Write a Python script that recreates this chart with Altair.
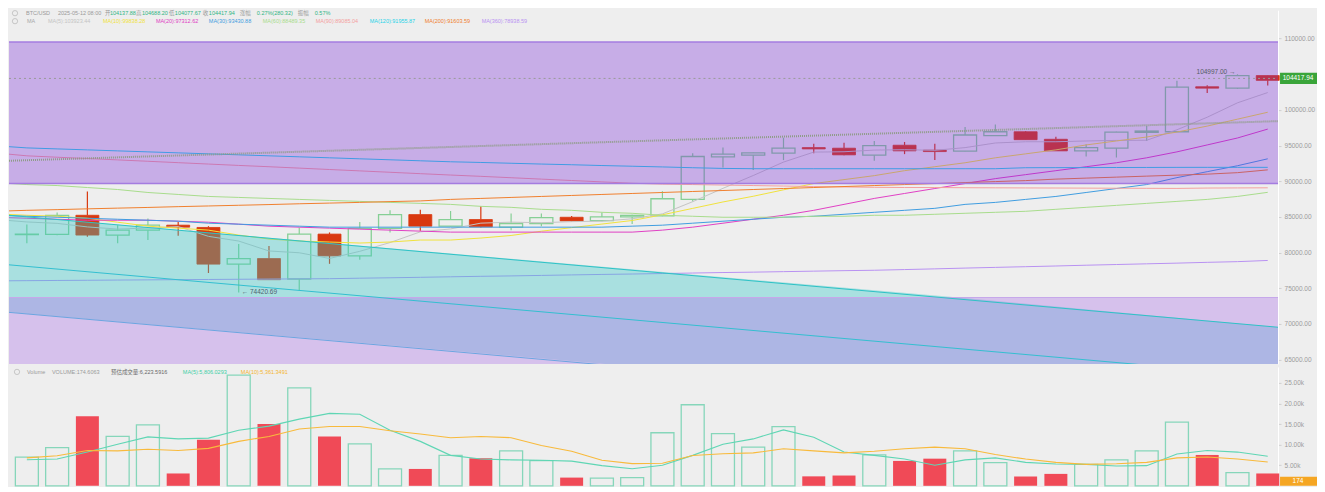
import altair as alt
import pandas as pd

# ---------------- data ----------------
idx = list(range(42))
opens = [82520, 82553, 85234, 82460, 83150, 83845, 83525, 78386, 79165, 76302,
         82595, 79540, 83386, 85331, 83706, 84637, 83567, 84081, 84956, 84498,
         85000, 85137, 87457, 93429, 93665, 93943, 94722, 94637, 93665, 95054,
         94360, 94221, 96388, 96943, 95888, 94263, 94637, 96860, 96943, 103250,
         103055, 104819]
highs = [83950, 85610, 88567, 83850, 84777, 84300, 83706, 81206, 80928, 83525,
         82830, 84300, 85928, 86026, 85832, 86485, 85470, 85470, 85137, 85610,
         85300, 88610, 93943, 94722, 94050, 96110, 95277, 95416, 95652, 95513,
         95277, 97596, 97971, 97050, 96249, 95194, 96950, 97735, 104083, 103450,
         104997, 104850]
lows = [81320, 82450, 82220, 81300, 81760, 82360, 77140, 74420.69, 76150, 74677,
        78428, 78983, 82830, 83054, 83650, 83525, 83150, 83706, 84400, 84400,
        84025, 85100, 87179, 91943, 91582, 92971, 93943, 93665, 92874, 93804,
        92971, 94180, 96350, 95800, 94230, 93471, 93332, 95652, 96900, 102360,
        102950, 103430]
closes = [82600, 85234, 82460, 83150, 83845, 83567, 78386, 79165, 76206, 82595,
          79540, 83386, 85331, 83706, 84637, 83609, 84081, 84915, 84443, 85000,
          85234, 87554, 93471, 93804, 93985, 94637, 94540, 93707, 95000, 94263,
          94165, 96485, 96943, 95832, 94263, 94721, 96902, 97040, 103194, 103055,
          104819, 104150]
volumes = [6950, 9300, 16900, 12000, 14800, 3000, 11200, 26900, 15000, 23800,
           12000, 10200, 4100, 4100, 7400, 6700, 8500, 6100, 2000, 1850,
           2000, 12900, 19700, 12700, 9400, 14400, 2300, 2500, 7500, 6050,
           6600, 8500, 5650, 2250, 2900, 5200, 6300, 8500, 15500, 7500,
           3200, 3000]
vol_ma5 = [6350, 6500, 8200, 10100, 11900, 11400, 11600, 13500, 14500, 16200,
           17600, 17400, 13500, 10800, 7400, 6500, 6300, 6200, 6000, 4900,
           4150, 5000, 7400, 10100, 11400, 13600, 11800, 8200, 7400, 6500,
           5000, 6300, 6800, 5700, 5300, 5200, 4800, 4900, 7750, 8600,
           8200, 7200]
vol_ma10 = [6800, 7300, 8600, 8500, 8900, 8600, 9100, 10800, 12000, 13800,
            14400, 14400, 13400, 12600, 11700, 12000, 11700, 9800, 8400, 6200,
            5400, 5500, 7350, 7800, 8000, 9000, 8500, 8000, 8400, 9000,
            9400, 9000, 7600, 6500, 5700, 5200, 5350, 5700, 6800, 7000,
            6500, 5800]

ma5 = [84300, 84100, 83600, 83300, 83450, 83650, 82280, 81620, 80230, 79980,
       79180, 80180, 81410, 82910, 83320, 84130, 84270, 84190, 84340, 84410,
       84740, 85430, 87140, 89010, 90810, 92690, 94090, 94140, 94370, 94430,
       94340, 94720, 95370, 95540, 95540, 95650, 95730, 95750, 97220, 98980,
       101000, 102440]
ma10 = [85234, 85096, 84818, 84262, 83707, 83429, 83151, 82456, 81900, 81623,
        81484, 81345, 81484, 81762, 81762, 82040, 82400, 83000, 83500, 84000,
        84500, 85300, 86200, 87100, 87900, 88800, 89679, 90234, 90790, 91485,
        92040, 92596, 93290, 93846, 94401, 95096, 95651, 96207, 96901, 97735,
        98707, 99679]
ma20 = [84818, 84679, 84540, 84540, 84540, 84401, 84262, 83984, 83707, 83568,
        83429, 83290, 83151, 83012, 82873, 82873, 82873, 82873, 82873, 82873,
        82873, 83151, 83568, 84123, 84679, 85234, 85929, 86762, 87596, 88290,
        88985, 89679, 90373, 90929, 91485, 92040, 92596, 93290, 94124, 95096,
        96068, 97318]
ma30 = [85096, 84957, 84818, 84679, 84540, 84401, 84123, 83984, 83845, 83707,
        83568, 83568, 83568, 83568, 83568, 83568, 83568, 83568, 83568, 83568,
        83707, 83845, 84123, 84401, 84679, 84957, 85096, 85373, 85651, 85929,
        86207, 86762, 87040, 87457, 87873, 88429, 88985, 89540, 90512, 91346,
        92179, 93151]
ma60 = [89540, 89401, 89124, 88846, 88429, 88151, 87873, 87735, 87596, 87457,
        87318, 87179, 87040, 86901, 86762, 86485, 86346, 86068, 85929, 85651,
        85512, 85234, 85096, 84957, 84957, 84957, 85096, 85096, 85234, 85234,
        85373, 85512, 85651, 85790, 86068, 86346, 86623, 86901, 87179, 87457,
        87873, 88450]
ma90 = [93568, 93373, 93193, 92998, 92804, 92609, 92415, 92221, 92040, 91846,
        91651, 91457, 91262, 91068, 90874, 90693, 90498, 90304, 90109, 89915,
        89720, 89595, 89540, 89470, 89401, 89332, 89262, 89207, 89151, 89124,
        89124, 89096, 89082, 89068, 89054, 89040, 89026, 89012, 89000, 89050,
        89070, 89085]
ma120 = [94679, 94540, 94401, 94262, 94124, 93985, 93846, 93707, 93568, 93429,
         93290, 93151, 93012, 92873, 92735, 92638, 92526, 92415, 92318, 92207,
         92110, 92012, 91901, 91804, 91762, 91762, 91762, 91762, 91762, 91762,
         91762, 91762, 91762, 91900, 91910, 91920, 91930, 91940, 91950, 91955,
         91955, 91955]
ma200 = [85929, 86026, 86137, 86235, 86332, 86443, 86540, 86637, 86735, 86846,
         86943, 87040, 87151, 87248, 87457, 87596, 87735, 87873, 88012, 88151,
         88290, 88429, 88568, 88707, 88846, 88985, 89124, 89262, 89401, 89540,
         89679, 89818, 89957, 90096, 90304, 90443, 90582, 90721, 90860, 90999,
         91207, 91600]
ma360 = [76067, 76095, 76123, 76150, 76178, 76206, 76234, 76262, 76289, 76317,
         76345, 76414, 76470, 76539, 76609, 76678, 76734, 76803, 76873, 76942,
         76998, 77067, 77137, 77206, 77262, 77331, 77401, 77470, 77526, 77623,
         77720, 77831, 77929, 78026, 78123, 78234, 78331, 78429, 78526, 78637,
         78734, 78900]
# values of each average where it enters at the left edge of the pane
ma_left_edge = [84500, 85350, 84900, 85200, 89700, 93800, 94850, 85850, 76050]

ma_names = ["MA5", "MA10", "MA20", "MA30", "MA60", "MA90", "MA120", "MA200", "MA360"]
ma_series = [ma5, ma10, ma20, ma30, ma60, ma90, ma120, ma200, ma360]
ma_colors = ["#c4c4c4", "#f0e23c", "#e040c4", "#3f9de0", "#a8dc8c",
             "#f4a0a0", "#27d3e8", "#f07f2e", "#b992f2"]
ma_legend = ["MA(5):103923.44", "MA(10):99838.28", "MA(20):97312.62", "MA(30):93430.88",
             "MA(60):88489.35", "MA(90):89085.04", "MA(120):91955.87", "MA(200):91603.59",
             "MA(360):78938.59"]
ma_legend_x = [39, 94, 147, 200, 254, 307, 361, 416, 473]

# drawings (index units / prices)
X0, X1 = -0.59, 41.34
channel_x = [X0, X1]
channel_top = [85234, 69538]
channel_mid = [78289, 62593]
channel_bot = [71622, 55926]
zone_purple = [89680, 109540]
zone_low_top = 73708
teal_x = [X0, 30.79]
teal_top = [85234, 73708]
teal_bot = [73708, 73708]
blue_x = [X0, 30.79, X1]
blue_top = [73708, 73708, 69538]
blue_bot = [71622, 60093, 55926]
trend_x = [X0, X1]
trend_y = [92875, 98431]
CUR = 104417.94
price_ticks = [65000, 70000, 75000, 80000, 85000, 90000, 95000, 100000, 110000]
vol_ticks = [5000, 10000, 15000, 20000, 25000]

head_items = [("BTC/USD", 17, "g"), ("2025-05-12 08:00", 49, "g"), ("开", 96, "g"),
              ("104137.88", 101, "v"), ("高", 127, "g"), ("104688.20", 133, "v"),
              ("低", 160, "g"), ("104077.67", 166, "v"), ("收", 194, "g"),
              ("104417.94", 200, "v"), ("涨幅", 231, "g"), ("0.27%(280.32)", 248, "v"),
              ("振幅", 289, "g"), ("0.57%", 306, "v")]
vol_items = [("Volume", 18, "#9a9a9a"), ("VOLUME:174.6063", 43, "#9a9a9a"),
             ("预估成交量:6,223.5916", 102, "#6a6a6a"), ("MA(5):5,806.0293", 174, "#3fcfa6"),
             ("MA(10):5,361.3491", 232, "#f5b52e")]

# ---------------- layout ----------------
W, H1, H2 = 1270, 354, 119
P0, P1 = 64397, 113986
V1 = 28900
FONT = "Liberation Sans, Noto Sans CJK SC, sans-serif"
UP = "#86cf95"
DN = "#d9380f"
VUP = "#86d6ba"
VDN = "#f04a57"

xs = alt.Scale(domain=[X0, X1], nice=False, zero=False, padding=0)
ys = alt.Scale(domain=[P0, P1], nice=False, zero=False, padding=0)
vs = alt.Scale(domain=[0, V1], nice=False, padding=0)

price_axis = alt.Axis(orient="right", values=price_ticks, format=".2f",
                      grid=False, labelFontSize=6.5, labelColor="#9c9c9c", labelFont=FONT,
                      tickSize=3, tickColor="#d0d0d0", domainColor="#ffffff", labelPadding=3,
                      title=None)
vol_axis = alt.Axis(orient="right", values=vol_ticks,
                    labelExpr="format(datum.value / 1000, '.2f') + 'k'", grid=False,
                    labelFontSize=6.5, labelColor="#9c9c9c", labelFont=FONT,
                    tickSize=3, tickColor="#d0d0d0", domainColor="#ffffff", labelPadding=3,
                    title=None)


def xe(f="i"):
    return alt.X(f"{f}:Q", scale=xs, axis=None, title=None)


def ye(f):
    return alt.Y(f"{f}:Q", scale=ys, axis=price_axis, title=None)


def ve(f):
    return alt.Y(f"{f}:Q", scale=vs, axis=vol_axis, title=None)


cdf = pd.DataFrame({"i": idx, "o": opens, "h": highs, "l": lows, "c": closes,
                    "v": volumes, "m5": vol_ma5, "m10": vol_ma10})
cdf["up"] = cdf["c"] >= cdf["o"]
cdf["top"] = cdf[["o", "c"]].max(axis=1)
cdf["bot"] = cdf[["o", "c"]].min(axis=1)
up_df = cdf[cdf["up"]]
dn_df = cdf[~cdf["up"]]

one = pd.DataFrame({"k": [0]})


def txt(s, x, y, color, size=5.5, align="left"):
    return alt.Chart(one).mark_text(text=s, align=align, baseline="middle", fontSize=size,
                                    color=color, font=FONT).encode(x=alt.value(x), y=alt.value(y))


def ring(x, y):
    return alt.Chart(one).mark_point(shape="circle", size=28, filled=False, color="#a8a8a8",
                                     strokeWidth=0.8).encode(x=alt.value(x), y=alt.value(y))


layers = []
# lower lavender zone and channel part inside it
layers.append(alt.Chart(pd.DataFrame({"x": [X0], "x2": [X1], "y": [zone_low_top], "y2": [P0]}))
              .mark_rect(color="#d6c1ec").encode(x=xe("x"), x2="x2:Q", y=ye("y"), y2="y2:Q"))
layers.append(alt.Chart(pd.DataFrame({"x": blue_x, "y": blue_top, "y2": blue_bot}))
              .mark_area(color="#adb6e4", clip=True).encode(x=xe("x"), y=ye("y"), y2="y2:Q"))
# wicks
wu = cdf.assign(a=cdf["top"], b=cdf["h"])
wl = cdf.assign(a=cdf["l"], b=cdf["bot"])
for wd in (wu, wl):
    layers.append(alt.Chart(wd).mark_rule(strokeWidth=1.2).encode(
        x=xe(), y=ye("a"), y2="b:Q",
        color=alt.condition("datum.up", alt.value(UP), alt.value(DN))))
# bodies
layers.append(alt.Chart(up_df).mark_bar(size=23, fillOpacity=0, stroke=UP, strokeWidth=1.3)
              .encode(x=xe(), y=ye("o"), y2="c:Q"))
layers.append(alt.Chart(dn_df).mark_bar(size=23, color=DN, stroke=DN, strokeWidth=0.8)
              .encode(x=xe(), y=ye("o"), y2="c:Q"))
# moving averages
ma_rows = []
for n, s, e in zip(ma_names, ma_series, ma_left_edge):
    ma_rows.append({"i": X0, "p": e, "name": n})
    for i, v in zip(idx, s):
        ma_rows.append({"i": i, "p": v, "name": n})
layers.append(alt.Chart(pd.DataFrame(ma_rows)).mark_line(strokeWidth=1, clip=True).encode(
    x=xe(), y=ye("p"),
    color=alt.Color("name:N", scale=alt.Scale(domain=ma_names, range=ma_colors), legend=None)))
# translucent zones over everything
layers.append(alt.Chart(pd.DataFrame({"x": teal_x, "y": teal_top, "y2": teal_bot}))
              .mark_area(color="#2fc8c8", opacity=0.36).encode(x=xe("x"), y=ye("y"), y2="y2:Q"))
layers.append(alt.Chart(pd.DataFrame({"x": [X0], "x2": [X1], "y": [zone_purple[0]], "y2": [zone_purple[1]]}))
              .mark_rect(color="#7524d9", opacity=0.32).encode(x=xe("x"), x2="x2:Q", y=ye("y"), y2="y2:Q"))
for p in zone_purple:
    layers.append(alt.Chart(pd.DataFrame({"x": [X0], "x2": [X1], "y": [p]}))
                  .mark_rule(color="#a47ce0", strokeWidth=1.5).encode(x=xe("x"), x2="x2:Q", y=ye("y")))
layers.append(alt.Chart(pd.DataFrame({"x": [X0], "x2": [X1], "y": [zone_low_top]}))
              .mark_rule(color="#c6a8ea", strokeWidth=1.2).encode(x=xe("x"), x2="x2:Q", y=ye("y")))
# channel lines
for yv, col in ((channel_top, "#2ec2c6"), (channel_mid, "#33bfd0"), (channel_bot, "#6aa6e0")):
    layers.append(alt.Chart(pd.DataFrame({"x": channel_x, "y": yv}))
                  .mark_line(color=col, strokeWidth=1, clip=True).encode(x=xe("x"), y=ye("y")))
# dotted trend line
layers.append(alt.Chart(pd.DataFrame({"x": trend_x, "y": trend_y}))
              .mark_line(color="#8e9c86", strokeWidth=2, strokeDash=[1, 1], clip=True)
              .encode(x=xe("x"), y=ye("y")))
# current price line + label
layers.append(alt.Chart(pd.DataFrame({"x": [X0], "x2": [X1], "y": [CUR]}))
              .mark_rule(color="#9a9a9a", strokeWidth=1, strokeDash=[2, 3])
              .encode(x=xe("x"), x2="x2:Q", y=ye("y")))
layers.append(alt.Chart(pd.DataFrame({"y": [CUR + 780], "y2": [CUR - 780]}))
              .mark_rect(color="#3aa53a").encode(x=alt.value(W + 2), x2=alt.value(W + 39),
                                                 y=ye("y"), y2="y2:Q"))
layers.append(alt.Chart(pd.DataFrame({"y": [CUR]}))
              .mark_text(text="104417.94", color="white", fontSize=6.5, font=FONT,
                         align="center", baseline="middle")
              .encode(x=alt.value(W + 20), y=ye("y")))
# high / low annotations
layers.append(alt.Chart(pd.DataFrame({"i": [40], "p": [104997.0]}))
              .mark_text(text="104997.00 →", align="right", baseline="bottom", dx=-2, dy=1,
                         fontSize=6.5, color="#555c66", font=FONT)
              .encode(x=xe(), y=ye("p")))
layers.append(alt.Chart(pd.DataFrame({"i": [7], "p": [74420.69]}))
              .mark_text(text="← 74420.69", align="left", baseline="middle", dx=3,
                         fontSize=6.5, color="#4f5f6e", font=FONT)
              .encode(x=xe(), y=ye("p")))
# header legends
layers.append(ring(6, 3))
layers.append(ring(6, 11))
for s, x, kind in head_items:
    layers.append(txt(s, x, 3, "#9a9a9a" if kind == "g" else "#2fb584"))
layers.append(txt("MA", 18, 11, "#a8a8a8"))
for s, x, col in zip(ma_legend, ma_legend_x, ma_colors):
    layers.append(txt(s, x, 11, col))

price = alt.layer(*layers).properties(width=W, height=H1)

# ---------------- volume pane ----------------
vlayers = []
vlayers.append(alt.Chart(up_df).mark_bar(size=23, fillOpacity=0, stroke=VUP, strokeWidth=1.3)
               .encode(x=xe(), y=ve("v")))
vlayers.append(alt.Chart(dn_df).mark_bar(size=23, color=VDN)
               .encode(x=xe(), y=ve("v")))
vlayers.append(alt.Chart(cdf).mark_line(color="#5fd6b4", strokeWidth=1.1)
               .encode(x=xe(), y=ve("m5")))
vlayers.append(alt.Chart(cdf).mark_line(color="#f8ba3c", strokeWidth=1.1)
               .encode(x=xe(), y=ve("m10")))
vlayers.append(ring(8, 5))
for s, x, col in vol_items:
    vlayers.append(txt(s, x, 5, col))
vlayers.append(alt.Chart(one).mark_rect(color="#f5a623")
               .encode(x=alt.value(W + 2), x2=alt.value(W + 39), y=alt.value(H2 - 9), y2=alt.value(H2)))
vlayers.append(txt("174", W + 20, H2 - 4.5, "white", size=6.5, align="center"))

volume = alt.layer(*vlayers).properties(width=W, height=H2)

chart = (alt.vconcat(price, volume, spacing=3)
         .properties(padding=0, background="#eeeeee")
         .configure_view(stroke=None))

chart.save("out.html", embed_options={"renderer": "svg", "actions": False})
